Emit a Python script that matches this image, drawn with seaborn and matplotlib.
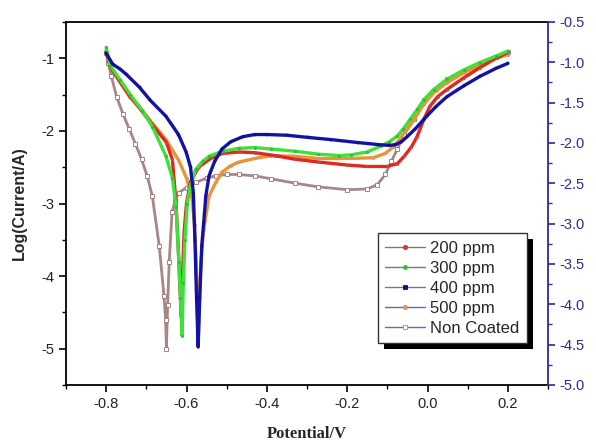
import matplotlib
matplotlib.use("Agg")
import matplotlib.pyplot as plt
import matplotlib.ticker as mticker
from matplotlib.lines import Line2D
from matplotlib.patches import Rectangle
import seaborn as sns
import pandas as pd

# ---------------- data ----------------
x_200 = [-0.80, -0.79, -0.765, -0.74, -0.715, -0.69, -0.65, -0.635, -0.626, -0.619, -0.616, -0.613,
         -0.610, -0.606, -0.600, -0.590, -0.57, -0.54, -0.51, -0.47, -0.43, -0.38, -0.33, -0.27,
         -0.20, -0.15, -0.10, -0.075, -0.058, -0.04, -0.026, -0.009, 0.006, 0.025, 0.048, 0.09,
         0.13, 0.17, 0.20]
y_200 = [-0.90, -1.12, -1.33, -1.53, -1.70, -1.88, -2.16, -2.40, -3.0, -3.8, -4.2, -4.56,
         -4.0, -3.4, -3.0, -2.7, -2.5, -2.38, -2.31, -2.29, -2.3, -2.34, -2.39, -2.43,
         -2.47, -2.49, -2.49, -2.45, -2.35, -2.22, -2.08, -1.84, -1.66, -1.53, -1.43, -1.27,
         -1.13, -1.0, -0.92]

x_300 = [-0.80, -0.79, -0.765, -0.74, -0.71, -0.685, -0.651, -0.635, -0.626, -0.619, -0.615, -0.611,
         -0.608, -0.604, -0.598, -0.59, -0.577, -0.56, -0.544, -0.51, -0.47, -0.43, -0.389, -0.33,
         -0.273, -0.22, -0.19, -0.15, -0.117, -0.095, -0.075, -0.06, -0.043, -0.025, -0.009, 0.015,
         0.048, 0.09, 0.13, 0.17, 0.20]
y_300 = [-0.85, -1.1, -1.30, -1.5, -1.72, -1.94, -2.35, -2.65, -3.05, -3.8, -4.3, -4.82,
         -4.1, -3.5, -3.0, -2.75, -2.53, -2.42, -2.35, -2.28, -2.24, -2.23, -2.25, -2.28,
         -2.32, -2.34, -2.33, -2.29, -2.21, -2.15, -2.07, -1.97, -1.84, -1.70, -1.57, -1.43,
         -1.29, -1.16, -1.06, -0.97, -0.90]

x_400 = [-0.80, -0.784, -0.765, -0.75, -0.717, -0.69, -0.651, -0.62, -0.601, -0.59, -0.583, -0.579,
         -0.575, -0.571, -0.567, -0.562, -0.557, -0.552, -0.544, -0.53, -0.512, -0.49, -0.46, -0.43,
         -0.40, -0.35, -0.297, -0.24, -0.174, -0.12, -0.095, -0.08, -0.065, -0.051, -0.03, -0.009,
         0.02, 0.048, 0.09, 0.13, 0.17, 0.20]
y_400 = [-0.93, -1.08, -1.15, -1.22, -1.40, -1.58, -1.8, -2.05, -2.29, -2.5, -2.85, -3.5,
         -4.3, -4.97, -4.3, -3.58, -3.25, -2.9, -2.62, -2.42, -2.25, -2.15, -2.08, -2.05,
         -2.05, -2.06, -2.09, -2.12, -2.16, -2.19, -2.2, -2.19, -2.15, -2.08, -1.97, -1.84,
         -1.67, -1.53, -1.38, -1.25, -1.14, -1.07]

x_500 = [-0.80, -0.79, -0.765, -0.742, -0.715, -0.693, -0.651, -0.62, -0.60, -0.586, -0.58, -0.576,
         -0.573, -0.571, -0.568, -0.564, -0.557, -0.544, -0.527, -0.512, -0.49, -0.47, -0.43, -0.389,
         -0.33, -0.273, -0.2, -0.135, -0.105, -0.085, -0.07, -0.055, -0.033, -0.009, 0.02, 0.048,
         0.09, 0.13, 0.17, 0.20]
y_500 = [-0.90, -1.12, -1.33, -1.53, -1.68, -1.84, -2.12, -2.4, -2.65, -2.94, -3.3, -3.8,
         -4.4, -4.97, -4.3, -3.8, -3.35, -2.9, -2.71, -2.57, -2.48, -2.43, -2.38, -2.34,
         -2.35, -2.38, -2.38, -2.37, -2.31, -2.22, -2.12, -2.0, -1.84, -1.63, -1.45, -1.34,
         -1.2, -1.1, -1.0, -0.95]

x_nc = [-0.80, -0.795, -0.787, -0.774, -0.758, -0.742, -0.727, -0.712, -0.698, -0.685, -0.668, -0.656,
        -0.652, -0.65, -0.647, -0.643, -0.636, -0.628, -0.619, -0.60, -0.577, -0.55, -0.527, -0.50,
        -0.47, -0.43, -0.389, -0.33, -0.273, -0.2, -0.15, -0.125, -0.105, -0.09, -0.075, -0.058,
        -0.033, -0.009, 0.02, 0.048, 0.09, 0.13, 0.17, 0.20]
y_nc = [-0.93, -1.06, -1.25, -1.53, -1.77, -1.98, -2.18, -2.39, -2.62, -2.9, -3.58, -4.27,
        -4.6, -5.0, -4.4, -3.8, -3.12, -2.95, -2.85, -2.78, -2.71, -2.65, -2.62, -2.6,
        -2.6, -2.62, -2.66, -2.72, -2.77, -2.81, -2.80, -2.74, -2.6, -2.42, -2.25, -2.05,
        -1.84, -1.57, -1.42, -1.29, -1.17, -1.06, -0.98, -0.91]

series_names = ["200 ppm", "300 ppm", "400 ppm", "500 ppm", "Non Coated"]
xticks = [-0.8, -0.6, -0.4, -0.2, 0.0, 0.2]
left_ticks = [-5, -4, -3, -2, -1]
right_ticks = [-5.0, -4.5, -4.0, -3.5, -3.0, -2.5, -2.0, -1.5, -1.0, -0.5]

# ---------------- style ----------------
sns.set_style("ticks")
plt.rcParams["font.family"] = ["Liberation Sans", "DejaVu Sans"]

colors = {"200 ppm": "#e0281c", "300 ppm": "#3ee03a", "400 ppm": "#1212a6",
          "500 ppm": "#e8962f", "Non Coated": "#a88686"}
markers = {"200 ppm": "o", "300 ppm": "o", "400 ppm": "s", "500 ppm": "o", "Non Coated": "s"}
mkcolor = {"200 ppm": "#c04848", "300 ppm": "#30b830", "400 ppm": "#10107a",
           "500 ppm": "#e09070", "Non Coated": "white"}
leg_line = {"200 ppm": "#7a7a7a", "300 ppm": "#7a7a7a", "400 ppm": "#7a7a7a",
            "500 ppm": "#6a6aa8", "Non Coated": "#6a6aa8"}

frames = []
for name, xs, ys in zip(series_names, [x_200, x_300, x_400, x_500, x_nc],
                        [y_200, y_300, y_400, y_500, y_nc]):
    frames.append(pd.DataFrame({"Potential": xs, "LogI": ys, "Sample": name}))
df = pd.concat(frames, ignore_index=True)

fig = plt.figure(figsize=(5.96, 4.41), dpi=100)
ax = fig.add_axes([66 / 596, 1 - 385 / 441, (548 - 66) / 596, (385 - 22) / 441])

zord = {"Non Coated": 2, "500 ppm": 3, "200 ppm": 4, "300 ppm": 5, "400 ppm": 6}
for name in ["Non Coated", "500 ppm", "200 ppm", "300 ppm", "400 ppm"]:
    sub = df[df["Sample"] == name]
    if name == "Non Coated":
        sns.lineplot(data=sub, x="Potential", y="LogI", sort=False, estimator=None, ax=ax,
                     color=colors[name], linewidth=2.0, marker="s", markersize=2.6,
                     markerfacecolor="white", markeredgecolor="#9a7272",
                     markeredgewidth=0.6, zorder=zord[name], legend=False)
    else:
        sns.lineplot(data=sub, x="Potential", y="LogI", sort=False, estimator=None, ax=ax,
                     color=colors[name], linewidth=2.4, marker=markers[name],
                     markersize=1.8, markerfacecolor=mkcolor[name],
                     markeredgecolor=mkcolor[name], markeredgewidth=0.3,
                     zorder=zord[name], legend=False)

ax.set_xlim(-0.9, 0.3)
ax.set_ylim(-5.5, -0.5)
ax.set_xticks(xticks)
ax.xaxis.set_major_formatter(mticker.FormatStrFormatter("%.1f"))
ax.xaxis.set_minor_locator(mticker.MultipleLocator(0.1))
ax.set_yticks(left_ticks)
ax.yaxis.set_major_formatter(mticker.FormatStrFormatter("%d"))
ax.yaxis.set_minor_locator(mticker.MultipleLocator(0.5))
ax.tick_params(axis="both", which="major", direction="out", length=5, width=1.2,
               labelsize=10.5, color="black", labelcolor="#222222")
ax.tick_params(axis="both", which="minor", direction="out", length=3, width=1.0, color="black")
for sp in ["left", "bottom", "top"]:
    ax.spines[sp].set_color("black")
    ax.spines[sp].set_linewidth(1.3)
ax.spines["right"].set_visible(False)

ax.set_xlabel("Potential/V", fontsize=12, fontweight="bold",
              family=["Liberation Serif", "DejaVu Serif"], labelpad=11)
ax.set_ylabel("Log(Current/A)", fontsize=11.5, fontweight="bold", labelpad=10)

ax2 = ax.twinx()
ax2.set_ylim(-5.0, -0.5)
ax2.set_yticks(right_ticks)
ax2.yaxis.set_major_formatter(mticker.FormatStrFormatter("%.1f"))
ax2.yaxis.set_minor_locator(mticker.MultipleLocator(0.25))
blue = "#2b2b9a"
ax2.tick_params(axis="y", which="major", direction="out", length=5, width=1.2,
                labelsize=10.5, color=blue, labelcolor=blue)
ax2.tick_params(axis="y", which="minor", direction="out", length=3, width=1.0, color=blue)
ax2.spines["right"].set_color(blue)
ax2.spines["right"].set_linewidth(1.3)
for sp in ["left", "bottom", "top"]:
    ax2.spines[sp].set_visible(False)

handles = []
for name in series_names:
    handles.append(Line2D([], [], color=leg_line[name], linewidth=1.0, marker=markers[name],
                          markersize=3,
                          markerfacecolor=mkcolor[name] if name != "Non Coated" else "white",
                          markeredgecolor=colors[name] if name != "400 ppm" else "#10107a",
                          markeredgewidth=0.6))
leg = ax2.legend(handles, series_names, loc="upper left", bbox_to_anchor=(0.647, 0.418),
                 fontsize=12, frameon=True, fancybox=False, framealpha=1,
                 edgecolor="#333333", handlelength=2.4, handletextpad=0.3,
                 labelspacing=0.3, borderpad=0.45, borderaxespad=0.0)
leg.get_frame().set_linewidth(1.0)
leg.set_zorder(10)

fig.canvas.draw()
bb = leg.get_window_extent()
inv = fig.transFigure.inverted()
(x0, y0) = inv.transform((bb.x0 + 6, bb.y0 - 6))
(x1, y1) = inv.transform((bb.x1 + 6, bb.y1 - 6))
shadow = Rectangle((x0, y0), x1 - x0, y1 - y0, transform=fig.transFigure,
                   facecolor="black", edgecolor="none", zorder=9, clip_on=False)
ax2.add_patch(shadow)

fig.savefig("out.png", dpi=100)
